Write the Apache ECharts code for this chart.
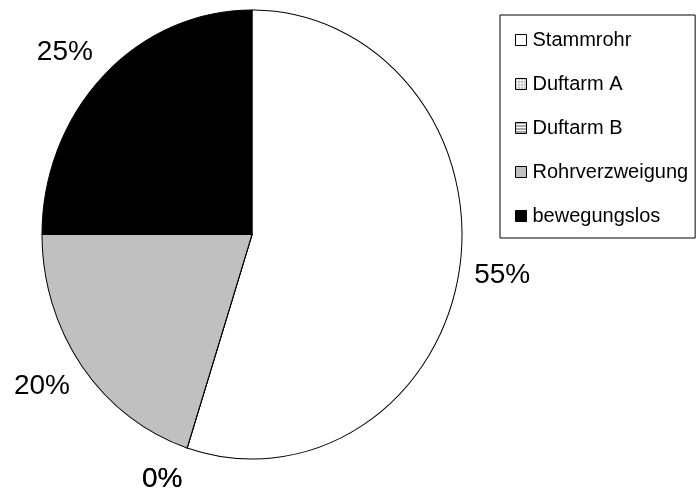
<!DOCTYPE html>
<html>
<head>
<meta charset="utf-8">
<script src="https://cdn.jsdelivr.net/npm/echarts@6/dist/echarts.min.js"></script>
<style>
    html, body { margin: 0; padding: 0; background: #fff; }
    #wrap { position: relative; width: 698px; height: 495px; overflow: hidden; }
    #pie, #top { position: absolute; left: 0; top: 0; width: 698px; height: 495px; }
    /* the original pie is a little taller than wide */
    #pie { transform-origin: 0 234.5px; transform: scaleY(1.069); }
</style>
</head>
<body>
<div id="wrap">
    <div id="pie"></div>
    <div id="top"></div>
</div>
<script>
var categories = ['Stammrohr', 'Duftarm A', 'Duftarm B', 'Rohrverzweigung', 'bewegungslos'];
var values = [55, 0, 0, 20, 25];
var sliceColors = ['#ffffff', '#d8d8d8', '#a0a0a0', '#c0c0c0', '#000000'];

var cx = 252, cy = 234.5, rx = 210, ry = 224.5;
var font = 'Liberation Sans, Arial, sans-serif';

// kleine Muster fuer die Legende
function makePattern(w, h, draw) {
    var c = document.createElement('canvas');
    c.width = w;
    c.height = h;
    var ctx = c.getContext('2d');
    ctx.fillStyle = '#ffffff';
    ctx.fillRect(0, 0, w, h);
    draw(ctx);
    return {image: c, repeat: 'repeat'};
}
var dotted = makePattern(3, 3, function (ctx) {
    ctx.fillStyle = '#c8c8c8';
    ctx.fillRect(0, 0, 3, 1);
    ctx.fillRect(0, 0, 1, 3);
    ctx.fillStyle = '#909090';
    ctx.fillRect(0, 0, 1, 1);
});
var striped = makePattern(2, 3, function (ctx) {
    ctx.fillStyle = '#505050';
    ctx.fillRect(0, 0, 2, 1);
});
var legendColors = ['#ffffff', dotted, striped, '#c0c0c0', '#000000'];

var total = values.reduce(function (a, b) { return a + b; }, 0);
function midAngle(i) {
    var cum = 0;
    for (var j = 0; j < i; j++) cum += values[j];
    return (cum + values[i] / 2) / total * 2 * Math.PI;
}

// Tortenstuecke
var pieChart = echarts.init(document.getElementById('pie'), null, {renderer: 'svg'});
pieChart.setOption({
    animation: false,
    series: [{
        type: 'pie',
        silent: true,
        center: [cx, cy],
        radius: rx,
        startAngle: 90,
        clockwise: true,
        label: {show: false},
        labelLine: {show: false},
        itemStyle: {borderColor: '#000', borderWidth: 1},
        data: categories.map(function (n, i) {
            return {name: n, value: values[i], itemStyle: {color: sliceColors[i]}};
        })
    }]
});

// Legende und Beschriftung
var topChart = echarts.init(document.getElementById('top'));
topChart.setOption({
    animation: false,
    legend: {
        orient: 'vertical',
        left: 500,
        top: 15,
        padding: [15, 7, 12, 15],
        itemGap: 24,
        itemWidth: 11,
        itemHeight: 11,
        icon: 'rect',
        borderColor: '#000',
        borderWidth: 1,
        backgroundColor: '#fff',
        selectedMode: false,
        textStyle: {fontFamily: font, fontSize: 20, color: '#000', lineHeight: 20, padding: [0, 0, 0, 1]},
        data: categories.map(function (n, i) {
            return {name: n, itemStyle: {color: legendColors[i], borderColor: '#000', borderWidth: 1, opacity: 1}};
        })
    },
    series: [{
        type: 'pie',
        center: [cx, cy],
        radius: rx,
        startAngle: 90,
        clockwise: true,
        avoidLabelOverlap: false,
        emphasis: {disabled: true},
        itemStyle: {color: 'rgba(0,0,0,0)', borderWidth: 0},
        label: {
            show: true,
            position: 'outside',
            formatter: '{d}%',
            fontFamily: font,
            fontSize: 28,
            color: '#000'
        },
        labelLine: {show: false},
        labelLayout: function (p) {
            var a = midAngle(p.dataIndex);
            var dx = Math.sin(a), dy = -Math.cos(a);
            var w = p.labelRect.width;
            return {
                x: cx + rx * dx + dx * 15 + (dx < 0 ? -1 : 1) * w / 2,
                y: cy + ry * dy + dy * 33,
                align: 'center',
                verticalAlign: 'middle'
            };
        },
        data: categories.map(function (n, i) {
            return {name: n, value: values[i]};
        })
    }]
});
</script>
</body>
</html>
